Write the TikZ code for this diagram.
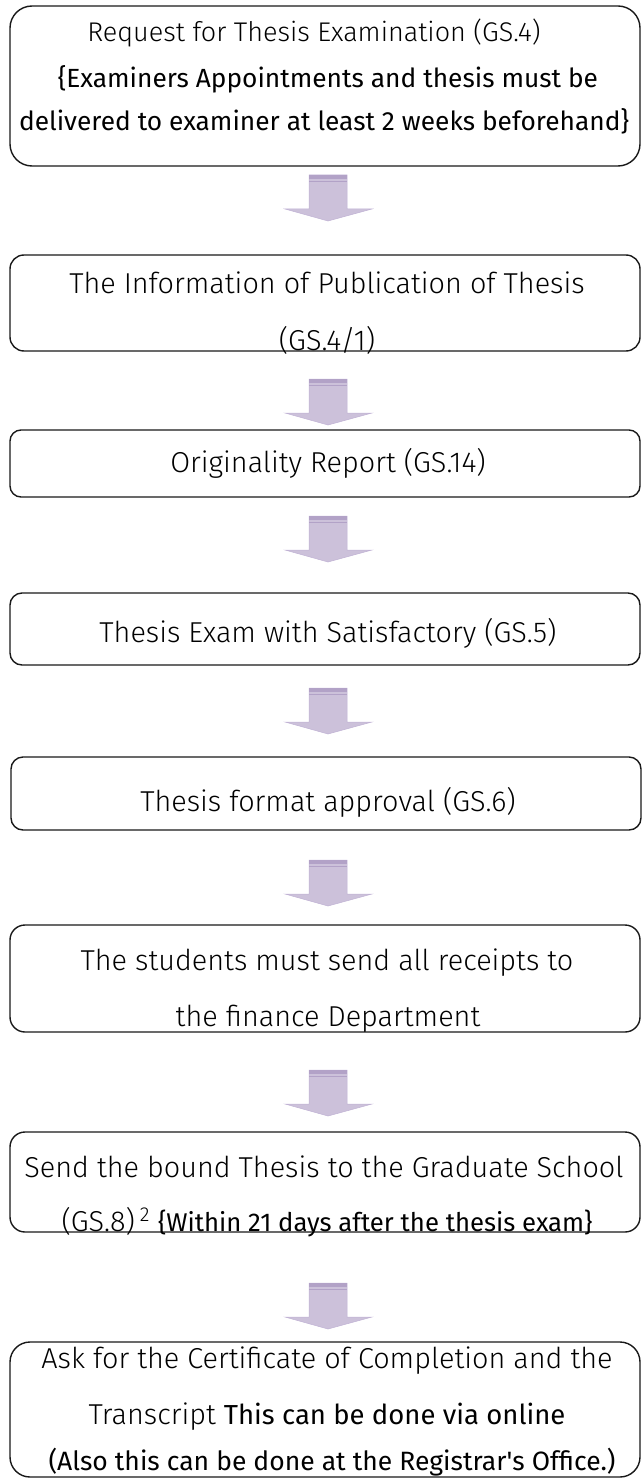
\documentclass[tikz,border=0pt]{standalone}
\usepackage{fontspec}
\setmainfont{Fira Sans Light}[BoldFont={Fira Sans}]
\usetikzlibrary{calc}

\definecolor{arrowfill}{RGB}{204,193,218}
\definecolor{arrowband}{RGB}{178,162,199}
\definecolor{arrowedge}{RGB}{192,178,212}

\tikzset{
  stage/.style={draw=black!90, line width=1.4pt, rounded corners=#1,
    minimum width=630pt, inner sep=0pt},
  stagetext/.style={anchor=base, inner sep=0pt, font=\fontsize{28.8}{32}\selectfont},
  notetext/.style={anchor=base, inner sep=0pt, font=\fontsize{26.3}{30}\selectfont\bfseries},
}

% block arrow between two stages, #1 = its top edge
\newcommand\flowarrow[1]{%
  \fill[arrowfill, draw=arrowedge, line width=0.5pt]
    (309,#1) -- (347,#1) -- (347,#1+34) -- (372,#1+34) -- (328,#1+46)
    -- (285,#1+34) -- (309,#1+34) -- cycle;
  \fill[arrowband] (309,#1) rectangle (347,#1+4);
  \draw[arrowband, line width=0.8pt] (309,#1+6.5) -- (347,#1+6.5);
}

\begin{document}
\begin{tikzpicture}[x=1pt, y=-1pt]
  \useasboundingbox (0,0) rectangle (641,1479);

  % stages
  \node[stage=22pt, minimum height=160pt] (b1) at (325,86) {};
  \node[stage=14pt, minimum height=96pt] (b2) at (325,303) {};
  \node[stage=11pt, minimum height=67pt] (b3) at (325,463.5) {};
  \node[stage=12pt, minimum height=72pt] (b4) at (325,629) {};
  \node[stage=12pt, minimum height=73pt] (b5) at (326,793.5) {};
  \node[stage=15pt, minimum height=107pt] (b6) at (325,978.5) {};
  \node[stage=15pt, minimum height=100pt] (b7) at (325,1182) {};
  \node[stage=20pt, minimum height=135pt] (b8) at (325,1409.5) {};

  % texts
  \node[stagetext, font=\fontsize{27}{30}\selectfont] (b1a) at (314,42) {Request for Thesis Examination (GS.4)};
  \node[notetext] (b1b) at (328,88) {\{Examiners Appointments and thesis must be};
  \node[notetext] (b1c) at (324,131) {delivered to examiner at least 2 weeks beforehand\}};
  \node[stagetext] (b2a) at (327,293) {The Information of Publication of Thesis};
  \node[stagetext] (b2b) at (327,350) {(GS.4/1)};
  \node[stagetext] (b3a) at (328,472) {Originality Report (GS.14)};
  \node[stagetext] (b4a) at (328,642) {Thesis Exam with Satisfactory (GS.5)};
  \node[stagetext] (b5a) at (328,811) {Thesis format approval (GS.6)};
  \node[stagetext] (b6a) at (327,970) {The students must send all receipts to};
  \node[stagetext] (b6b) at (328,1026) {the finance Department};
  \node[stagetext] (b7a) at (324,1177) {Send the bound Thesis to the Graduate School};
  \node[stagetext] (b7b) at (327,1231) {(GS.8)\,\textsuperscript{2} {\fontsize{25.7}{30}\selectfont\bfseries\{Within 21 days after the thesis exam\}}};
  \node[stagetext] (b8a) at (327,1368) {Ask for the Certificate of Completion and the};
  \node[stagetext] (b8b) at (327,1424) {Transcript {\fontsize{27.5}{30}\selectfont\bfseries This can be done via online}};
  \node[notetext, font=\fontsize{26.5}{30}\selectfont\bfseries] (b8c) at (332,1470) {(Also this can be done at the Registrar\textquotesingle s Office.)};

  % arrows
  \flowarrow{175}
  \flowarrow{379}
  \flowarrow{516}
  \flowarrow{688}
  \flowarrow{860}
  \flowarrow{1070}
  \flowarrow{1283}
\end{tikzpicture}
\end{document}
